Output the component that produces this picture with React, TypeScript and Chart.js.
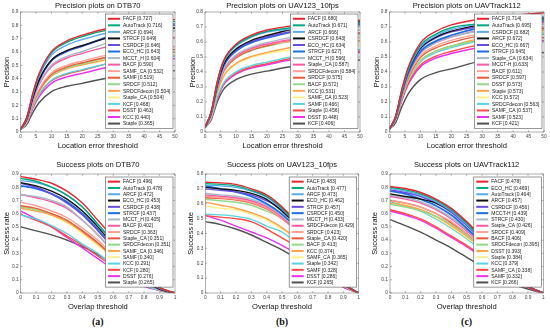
import React, { useEffect, useRef } from 'react';
import { Chart, registerables } from 'chart.js';

Chart.register(...registerables);
Chart.defaults.font.family = '"Liberation Sans", Arial, sans-serif';

// ---------- data ----------
const precisionX = [0, 2, 4, 6, 10, 15, 20, 30, 50];
const successX = [0, 0.1, 0.2, 0.3, 0.4, 0.5, 0.6, 0.7, 0.8, 0.9, 1];

const rankColors = [
  '#e8252d', '#00a97c', '#5aaaf2', '#111111', '#6b4be2', '#1c6fe2', '#a8b8c8', '#ff58a2', '#ffa096',
  '#f0583a', '#92da8a', '#ffa24a', '#fff08c', '#58d4de', '#ff4848', '#ef2ef2', '#505050',
];

// DTB70 precision
const dtbPrecNames = ['FACF', 'AutoTrack', 'ARCF', 'STRCF', 'CSRDCF', 'ECO_HC', 'MCCT_H', 'BACF', 'SAMF_CA', 'SAMF', 'SRDCF', 'SRDCFdecon', 'Staple_CA', 'KCF', 'DSST', 'KCC', 'Staple'];
const dtbPrecScores = [0.727, 0.716, 0.694, 0.649, 0.646, 0.643, 0.604, 0.590, 0.532, 0.519, 0.512, 0.504, 0.504, 0.468, 0.463, 0.440, 0.365];
const dtbPrecCurves = [
  [0.02, 0.109, 0.291, 0.436, 0.603, 0.683, 0.727, 0.786, 0.845],
  [0.02, 0.107, 0.286, 0.430, 0.594, 0.673, 0.716, 0.773, 0.83],
  [0.02, 0.104, 0.278, 0.416, 0.576, 0.652, 0.694, 0.752, 0.81],
  [0.02, 0.097, 0.260, 0.389, 0.539, 0.610, 0.649, 0.715, 0.78],
  [0.02, 0.097, 0.258, 0.388, 0.536, 0.607, 0.646, 0.723, 0.80],
  [0.02, 0.096, 0.257, 0.386, 0.534, 0.604, 0.643, 0.727, 0.81],
  [0.02, 0.091, 0.242, 0.362, 0.501, 0.568, 0.604, 0.682, 0.76],
  [0.02, 0.089, 0.236, 0.354, 0.490, 0.555, 0.590, 0.650, 0.71],
  [0.02, 0.080, 0.213, 0.319, 0.442, 0.500, 0.532, 0.586, 0.64],
  [0.02, 0.078, 0.208, 0.311, 0.431, 0.488, 0.519, 0.570, 0.62],
  [0.02, 0.077, 0.205, 0.307, 0.425, 0.481, 0.512, 0.566, 0.62],
  [0.02, 0.076, 0.202, 0.302, 0.418, 0.474, 0.504, 0.552, 0.60],
  [0.02, 0.076, 0.202, 0.302, 0.418, 0.474, 0.504, 0.542, 0.58],
  [0.02, 0.070, 0.187, 0.281, 0.388, 0.440, 0.468, 0.519, 0.57],
  [0.02, 0.069, 0.185, 0.278, 0.384, 0.435, 0.463, 0.522, 0.58],
  [0.02, 0.066, 0.176, 0.264, 0.365, 0.414, 0.440, 0.495, 0.55],
  [0.02, 0.055, 0.146, 0.219, 0.303, 0.343, 0.365, 0.413, 0.46],
];

// UAV123_10fps precision
const uavPrecNames = ['FACF', 'AutoTrack', 'ARCF', 'CSRDCF', 'ECO_HC', 'STRCF', 'MCCT_H', 'Staple_CA', 'SRDCFdecon', 'SRDCF', 'BACF', 'KCC', 'SAMF_CA', 'SAMF', 'Staple', 'DSST', 'KCF'];
const uavPrecScores = [0.680, 0.671, 0.666, 0.643, 0.634, 0.627, 0.596, 0.587, 0.584, 0.575, 0.572, 0.531, 0.523, 0.466, 0.456, 0.448, 0.406];
const uavPrecCurves = [
  [0.03, 0.136, 0.340, 0.476, 0.585, 0.646, 0.680, 0.713, 0.745],
  [0.03, 0.134, 0.336, 0.470, 0.577, 0.637, 0.671, 0.700, 0.73],
  [0.03, 0.133, 0.333, 0.466, 0.573, 0.633, 0.666, 0.688, 0.71],
  [0.03, 0.129, 0.322, 0.450, 0.553, 0.611, 0.643, 0.692, 0.74],
  [0.03, 0.127, 0.317, 0.444, 0.545, 0.602, 0.634, 0.677, 0.72],
  [0.03, 0.125, 0.314, 0.439, 0.539, 0.596, 0.627, 0.674, 0.72],
  [0.03, 0.119, 0.298, 0.417, 0.513, 0.566, 0.596, 0.638, 0.68],
  [0.03, 0.117, 0.294, 0.411, 0.505, 0.558, 0.587, 0.624, 0.66],
  [0.03, 0.117, 0.292, 0.409, 0.502, 0.555, 0.584, 0.607, 0.63],
  [0.03, 0.115, 0.288, 0.403, 0.495, 0.546, 0.575, 0.618, 0.66],
  [0.03, 0.114, 0.286, 0.400, 0.492, 0.543, 0.572, 0.611, 0.65],
  [0.03, 0.106, 0.266, 0.372, 0.457, 0.504, 0.531, 0.570, 0.61],
  [0.03, 0.105, 0.262, 0.366, 0.450, 0.497, 0.523, 0.552, 0.58],
  [0.03, 0.093, 0.233, 0.326, 0.401, 0.443, 0.466, 0.508, 0.55],
  [0.03, 0.091, 0.228, 0.319, 0.392, 0.433, 0.456, 0.498, 0.54],
  [0.03, 0.090, 0.224, 0.314, 0.385, 0.426, 0.448, 0.489, 0.53],
  [0.03, 0.081, 0.203, 0.284, 0.349, 0.386, 0.406, 0.443, 0.48],
];

// UAVTrack112 precision
const trkPrecNames = ['FACF', 'AutoTrack', 'CSRDCF', 'ARCF', 'ECO_HC', 'STRCF', 'Staple_CA', 'MCCT-H', 'BACF', 'SRDCF', 'DSST', 'Staple', 'KCC', 'SRDCFdecon', 'SAMF_CA', 'SAMF', 'KCF'];
const trkPrecScores = [0.714, 0.695, 0.682, 0.672, 0.667, 0.645, 0.634, 0.633, 0.611, 0.597, 0.573, 0.573, 0.572, 0.563, 0.537, 0.523, 0.421];
const trkPrecCurves = [
  [0.02, 0.107, 0.286, 0.428, 0.593, 0.671, 0.714, 0.755, 0.795],
  [0.02, 0.104, 0.278, 0.417, 0.577, 0.653, 0.695, 0.723, 0.75],
  [0.02, 0.102, 0.273, 0.409, 0.566, 0.641, 0.682, 0.726, 0.77],
  [0.02, 0.101, 0.269, 0.403, 0.558, 0.632, 0.672, 0.716, 0.76],
  [0.02, 0.100, 0.267, 0.400, 0.554, 0.627, 0.667, 0.704, 0.74],
  [0.02, 0.097, 0.258, 0.387, 0.535, 0.606, 0.645, 0.698, 0.75],
  [0.02, 0.095, 0.254, 0.380, 0.526, 0.596, 0.634, 0.677, 0.72],
  [0.02, 0.095, 0.253, 0.380, 0.525, 0.595, 0.633, 0.682, 0.73],
  [0.02, 0.092, 0.244, 0.367, 0.507, 0.574, 0.611, 0.656, 0.70],
  [0.02, 0.090, 0.239, 0.358, 0.496, 0.561, 0.597, 0.644, 0.69],
  [0.02, 0.086, 0.229, 0.344, 0.476, 0.539, 0.573, 0.612, 0.65],
  [0.02, 0.086, 0.229, 0.344, 0.476, 0.539, 0.573, 0.627, 0.68],
  [0.02, 0.086, 0.229, 0.343, 0.475, 0.538, 0.572, 0.621, 0.67],
  [0.02, 0.084, 0.225, 0.338, 0.467, 0.529, 0.563, 0.612, 0.66],
  [0.02, 0.081, 0.215, 0.322, 0.446, 0.505, 0.537, 0.584, 0.63],
  [0.02, 0.078, 0.209, 0.314, 0.434, 0.492, 0.523, 0.567, 0.61],
  [0.02, 0.063, 0.168, 0.253, 0.349, 0.396, 0.421, 0.476, 0.53],
];

// DTB70 success
const dtbSuccNames = ['FACF', 'AutoTrack', 'ARCF', 'ECO_HC', 'CSRDCF', 'STRCF', 'MCCT_H', 'BACF', 'SRDCF', 'Staple_CA', 'SRDCFdecon', 'SAMF_CA', 'SAMF', 'KCC', 'KCF', 'DSST', 'Staple'];
const dtbSuccScores = [0.496, 0.478, 0.472, 0.453, 0.438, 0.437, 0.405, 0.402, 0.363, 0.351, 0.351, 0.346, 0.340, 0.291, 0.280, 0.276, 0.265];
const dtbSuccCurves = [
  [0.88, 0.86, 0.83, 0.77, 0.68, 0.55, 0.42, 0.27, 0.13, 0.04, 0],
  [0.867, 0.845, 0.80, 0.74, 0.65, 0.52, 0.39, 0.25, 0.12, 0.04, 0],
  [0.85, 0.835, 0.80, 0.74, 0.65, 0.52, 0.38, 0.24, 0.11, 0.035, 0],
  [0.835, 0.81, 0.77, 0.71, 0.62, 0.50, 0.36, 0.22, 0.10, 0.03, 0],
  [0.83, 0.80, 0.75, 0.68, 0.59, 0.47, 0.34, 0.21, 0.10, 0.03, 0],
  [0.81, 0.79, 0.75, 0.69, 0.60, 0.48, 0.34, 0.20, 0.09, 0.03, 0],
  [0.745, 0.73, 0.70, 0.65, 0.55, 0.44, 0.31, 0.19, 0.09, 0.03, 0],
  [0.745, 0.72, 0.69, 0.64, 0.55, 0.44, 0.31, 0.19, 0.09, 0.03, 0],
  [0.686, 0.66, 0.62, 0.57, 0.49, 0.40, 0.28, 0.17, 0.08, 0.025, 0],
  [0.66, 0.64, 0.60, 0.55, 0.47, 0.38, 0.27, 0.17, 0.08, 0.025, 0],
  [0.65, 0.63, 0.60, 0.55, 0.47, 0.38, 0.27, 0.17, 0.08, 0.025, 0],
  [0.64, 0.62, 0.59, 0.54, 0.46, 0.37, 0.27, 0.17, 0.08, 0.025, 0],
  [0.655, 0.63, 0.59, 0.53, 0.45, 0.36, 0.26, 0.16, 0.08, 0.025, 0],
  [0.59, 0.56, 0.51, 0.45, 0.37, 0.30, 0.21, 0.13, 0.06, 0.02, 0],
  [0.595, 0.55, 0.50, 0.43, 0.36, 0.28, 0.20, 0.12, 0.06, 0.02, 0],
  [0.62, 0.56, 0.50, 0.42, 0.34, 0.26, 0.18, 0.12, 0.05, 0.02, 0],
  [0.50, 0.47, 0.44, 0.40, 0.35, 0.29, 0.22, 0.14, 0.07, 0.02, 0],
];

// UAV123_10fps success
const uavSuccNames = ['FACF', 'AutoTrack', 'ARCF', 'ECO_HC', 'STRCF', 'CSRDCF', 'MCCT_H', 'SRDCFdecon', 'SRDCF', 'Staple_CA', 'BACF', 'KCC', 'SAMF_CA', 'Staple', 'SAMF', 'DSST', 'KCF'];
const uavSuccScores = [0.483, 0.477, 0.473, 0.462, 0.457, 0.450, 0.433, 0.429, 0.423, 0.420, 0.413, 0.374, 0.365, 0.342, 0.328, 0.286, 0.265];
const uavSuccCurves = [
  [0.745, 0.74, 0.73, 0.70, 0.66, 0.58, 0.47, 0.33, 0.18, 0.06, 0],
  [0.735, 0.73, 0.72, 0.69, 0.65, 0.57, 0.46, 0.33, 0.18, 0.06, 0],
  [0.725, 0.72, 0.71, 0.685, 0.645, 0.565, 0.46, 0.33, 0.18, 0.06, 0],
  [0.71, 0.70, 0.69, 0.67, 0.63, 0.55, 0.45, 0.32, 0.17, 0.06, 0],
  [0.70, 0.69, 0.68, 0.66, 0.62, 0.56, 0.45, 0.32, 0.18, 0.06, 0],
  [0.72, 0.70, 0.68, 0.65, 0.60, 0.53, 0.43, 0.31, 0.17, 0.06, 0],
  [0.67, 0.66, 0.65, 0.63, 0.59, 0.52, 0.42, 0.30, 0.17, 0.05, 0],
  [0.66, 0.65, 0.64, 0.62, 0.58, 0.51, 0.41, 0.31, 0.18, 0.06, 0],
  [0.65, 0.64, 0.63, 0.61, 0.57, 0.50, 0.41, 0.30, 0.17, 0.06, 0],
  [0.64, 0.635, 0.625, 0.605, 0.565, 0.50, 0.41, 0.30, 0.17, 0.06, 0],
  [0.63, 0.62, 0.61, 0.59, 0.55, 0.50, 0.41, 0.30, 0.17, 0.06, 0],
  [0.61, 0.59, 0.57, 0.54, 0.50, 0.44, 0.36, 0.26, 0.15, 0.05, 0],
  [0.585, 0.57, 0.56, 0.53, 0.49, 0.43, 0.35, 0.25, 0.14, 0.05, 0],
  [0.53, 0.525, 0.515, 0.495, 0.45, 0.41, 0.33, 0.24, 0.14, 0.06, 0],
  [0.52, 0.51, 0.50, 0.48, 0.43, 0.37, 0.31, 0.23, 0.14, 0.05, 0],
  [0.52, 0.49, 0.45, 0.41, 0.37, 0.32, 0.26, 0.19, 0.11, 0.04, 0],
  [0.48, 0.46, 0.43, 0.39, 0.34, 0.29, 0.23, 0.17, 0.10, 0.04, 0],
];

// UAVTrack112 success
const trkSuccNames = ['FACF', 'ECO_HC', 'AutoTrack', 'ARCF', 'CSRDCF', 'MCCT-H', 'STRCF', 'Staple_CA', 'SRDCF', 'BACF', 'SRDCFdecon', 'DSST', 'Staple', 'KCC', 'SAMF_CA', 'SAMF', 'KCF'];
const trkSuccScores = [0.478, 0.469, 0.464, 0.457, 0.456, 0.439, 0.430, 0.426, 0.409, 0.406, 0.395, 0.393, 0.384, 0.379, 0.338, 0.332, 0.266];
const trkSuccCurves = [
  [0.805, 0.79, 0.76, 0.71, 0.64, 0.54, 0.42, 0.29, 0.15, 0.05, 0],
  [0.80, 0.78, 0.75, 0.70, 0.63, 0.53, 0.41, 0.28, 0.15, 0.05, 0],
  [0.79, 0.77, 0.74, 0.69, 0.62, 0.52, 0.41, 0.28, 0.15, 0.05, 0],
  [0.75, 0.73, 0.71, 0.68, 0.62, 0.53, 0.42, 0.29, 0.16, 0.05, 0],
  [0.78, 0.76, 0.73, 0.68, 0.61, 0.51, 0.40, 0.28, 0.15, 0.05, 0],
  [0.77, 0.75, 0.71, 0.66, 0.59, 0.49, 0.38, 0.26, 0.14, 0.05, 0],
  [0.74, 0.72, 0.69, 0.64, 0.57, 0.48, 0.37, 0.26, 0.14, 0.05, 0],
  [0.73, 0.71, 0.68, 0.63, 0.56, 0.47, 0.37, 0.26, 0.14, 0.05, 0],
  [0.70, 0.68, 0.65, 0.60, 0.54, 0.45, 0.35, 0.25, 0.14, 0.05, 0],
  [0.70, 0.68, 0.65, 0.60, 0.53, 0.45, 0.35, 0.24, 0.13, 0.05, 0],
  [0.67, 0.65, 0.62, 0.58, 0.52, 0.44, 0.34, 0.24, 0.13, 0.05, 0],
  [0.68, 0.66, 0.63, 0.58, 0.51, 0.43, 0.34, 0.24, 0.14, 0.05, 0],
  [0.70, 0.67, 0.63, 0.57, 0.50, 0.42, 0.33, 0.23, 0.13, 0.05, 0],
  [0.69, 0.66, 0.62, 0.56, 0.49, 0.41, 0.32, 0.23, 0.13, 0.05, 0],
  [0.63, 0.60, 0.56, 0.50, 0.43, 0.36, 0.28, 0.19, 0.11, 0.04, 0],
  [0.62, 0.59, 0.55, 0.49, 0.42, 0.35, 0.27, 0.19, 0.11, 0.04, 0],
  [0.555, 0.51, 0.46, 0.40, 0.34, 0.27, 0.20, 0.14, 0.07, 0.03, 0],
];

const subLabels = ['(a)', '(b)', '(c)'];

// ---------- layout ----------
type PanelCfg = {
  title: string; names: string[]; scores: number[]; curves: number[][]; xs: number[];
  xMax: number; xStep: number; yMax: number; yLabel: string; xLabel: string;
  left: number; top: number; w: number; h: number; L: number; R: number; T: number; B: number;
  titleY: number; yTitleX: number; rowH: number; legTop: number;
};

const top = { xs: precisionX, xMax: 50, xStep: 5, yLabel: 'Precision', xLabel: 'Location error threshold', top: 0, h: 150, T: 12, B: 132, titleY: 5.5, rowH: 6.55, legTop: 2 };
const bot = { xs: successX, xMax: 1, xStep: 0.1, yLabel: 'Success rate', xLabel: 'Overlap threshold', top: 150, h: 161, T: 24, B: 143, titleY: 15, rowH: 6.3, legTop: 3 };

const panels: PanelCfg[] = [
  { ...top, title: 'Precision plots on DTB70', names: dtbPrecNames, scores: dtbPrecScores, curves: dtbPrecCurves, yMax: 0.9, left: 0, w: 183, L: 20.5, R: 175, yTitleX: 7 },
  { ...top, title: 'Precision plots on UAV123_10fps', names: uavPrecNames, scores: uavPrecScores, curves: uavPrecCurves, yMax: 0.8, left: 183, w: 183, L: 22, R: 177, yTitleX: 9.5 },
  { ...top, title: 'Precision plots on UAVTrack112', names: trkPrecNames, scores: trkPrecScores, curves: trkPrecCurves, yMax: 0.8, left: 366, w: 184, L: 23.5, R: 178, yTitleX: 10.5 },
  { ...bot, title: 'Success plots on DTB70', names: dtbSuccNames, scores: dtbSuccScores, curves: dtbSuccCurves, yMax: 0.9, left: 0, w: 183, L: 20.7, R: 175, yTitleX: 6.5 },
  { ...bot, title: 'Success plots on UAV123_10fps', names: uavSuccNames, scores: uavSuccScores, curves: uavSuccCurves, yMax: 0.8, left: 183, w: 183, L: 22.3, R: 175.7, yTitleX: 7.5 },
  { ...bot, title: 'Success plots on UAVTrack112', names: trkSuccNames, scores: trkSuccScores, curves: trkSuccCurves, yMax: 0.9, left: 366, w: 184, L: 24, R: 177.3, yTitleX: 9 },
];

const FONT = '"Liberation Sans", Arial, sans-serif';

const fmt = (v: any) => {
  const n = Math.round(Number(v) * 10) / 10;
  return n === 0 ? '0' : String(n);
};

const framePlugin = {
  id: 'frameAndTitle',
  afterDatasetsDraw(chart: any, _a: any, opts: any) {
    const { ctx, chartArea: a, scales } = chart;
    ctx.save();
    ctx.strokeStyle = '#7a7a7a';
    ctx.lineWidth = 0.6;
    ctx.strokeRect(a.left, a.top, a.right - a.left, a.bottom - a.top);
    const tl = 1.8;
    ctx.beginPath();
    scales.x.ticks.forEach((t: any) => {
      const px = scales.x.getPixelForValue(t.value);
      ctx.moveTo(px, a.bottom); ctx.lineTo(px, a.bottom - tl);
      ctx.moveTo(px, a.top); ctx.lineTo(px, a.top + tl);
    });
    scales.y.ticks.forEach((t: any) => {
      const py = scales.y.getPixelForValue(t.value);
      ctx.moveTo(a.left, py); ctx.lineTo(a.left + tl, py);
      ctx.moveTo(a.right, py); ctx.lineTo(a.right - tl, py);
    });
    ctx.stroke();
    ctx.fillStyle = '#111';
    ctx.font = `7.6px ${FONT}`;
    ctx.textAlign = 'center';
    ctx.textBaseline = 'middle';
    ctx.fillText(opts.title, (a.left + a.right) / 2, opts.titleY);
    ctx.restore();
  },
};

const boxLegendPlugin = {
  id: 'boxLegend',
  afterDraw(chart: any, _a: any, opts: any) {
    const { ctx, chartArea: a } = chart;
    const items = chart.data.datasets.map((d: any) => ({ label: d.label, color: d.borderColor }));
    ctx.save();
    ctx.font = `5px ${FONT}`;
    const textW = Math.max(...items.map((i: any) => ctx.measureText(i.label).width));
    const padX = 2.5, sample = 12, gap = 3, padY = 1.5, rowH = opts.rowH;
    const w = padX + sample + gap + textW + padX;
    const h = padY * 2 + rowH * items.length;
    const x0 = a.right - 2 - w;
    const y0 = a.top + opts.legTop;
    ctx.fillStyle = '#fff';
    ctx.fillRect(x0, y0, w, h);
    ctx.strokeStyle = '#555';
    ctx.lineWidth = 0.6;
    ctx.strokeRect(x0, y0, w, h);
    items.forEach((it: any, i: number) => {
      const cy = y0 + padY + rowH * (i + 0.5);
      ctx.strokeStyle = it.color;
      ctx.lineWidth = 2;
      ctx.beginPath();
      ctx.moveTo(x0 + padX, cy);
      ctx.lineTo(x0 + padX + sample, cy);
      ctx.stroke();
      ctx.fillStyle = '#222';
      ctx.textBaseline = 'middle';
      ctx.textAlign = 'left';
      ctx.fillText(it.label, x0 + padX + sample + gap, cy + 0.3);
    });
    ctx.restore();
  },
};

function Panel({ p }: { p: PanelCfg }) {
  const ref = useRef<HTMLCanvasElement>(null);
  useEffect(() => {
    if (!ref.current) return;
    const datasets = p.names.map((name, i) => ({
      label: `${name} [${p.scores[i].toFixed(3)}]`,
      data: p.xs.map((x, j) => ({ x, y: p.curves[i][j] })),
      borderColor: rankColors[i],
      backgroundColor: rankColors[i],
      borderWidth: i === 5 ? 1.8 : 1.4,
      pointRadius: 0,
      cubicInterpolationMode: 'monotone' as const,
      fill: false,
    }));
    const chart = new Chart(ref.current, {
      type: 'line',
      data: { datasets },
      options: {
        animation: false,
        responsive: false,
        maintainAspectRatio: false,
        layout: { padding: { left: 0, right: p.w - p.R, top: p.T, bottom: 0 } },
        plugins: {
          legend: { display: false },
          tooltip: { enabled: false },
          title: { display: false },
          frameAndTitle: { title: p.title, titleY: p.titleY },
          boxLegend: { rowH: p.rowH, legTop: p.legTop },
        } as any,
        scales: {
          x: {
            type: 'linear',
            min: 0,
            max: p.xMax,
            grid: { display: false, drawTicks: false },
            border: { display: false },
            ticks: { stepSize: p.xStep, autoSkip: false, maxRotation: 0, font: { size: 4.8 }, color: '#444', padding: 1.5, callback: fmt },
            title: { display: true, text: p.xLabel, font: { size: 7.6 }, color: '#111', padding: { top: 0, bottom: 0 } },
            afterFit: (s: any) => { s.height = p.h - p.B; s.paddingLeft = 0; s.paddingRight = 0; },
          },
          y: {
            type: 'linear',
            min: 0,
            max: p.yMax,
            grid: { display: false, drawTicks: false },
            border: { display: false },
            ticks: { stepSize: 0.1, font: { size: 4.8 }, color: '#444', padding: 2, callback: fmt },
            title: { display: true, text: p.yLabel, font: { size: 7.4 }, color: '#111', padding: { top: p.yTitleX - 4.4, bottom: 0 } },
            afterFit: (s: any) => { s.width = p.L; s.paddingTop = 0; s.paddingBottom = 0; },
          },
        },
      },
      plugins: [framePlugin, boxLegendPlugin],
    });
    return () => chart.destroy();
  }, [p]);
  return (
    <canvas
      ref={ref}
      width={p.w}
      height={p.h}
      style={{ position: 'absolute', left: p.left, top: p.top, width: p.w, height: p.h }}
    />
  );
}

export default function App() {
  return (
    <div style={{ position: 'fixed', left: 0, top: 0, width: 550, height: 329, background: '#fff', overflow: 'hidden' }}>
      {panels.map((p, i) => <Panel key={i} p={p} />)}
      {subLabels.map((s, i) => {
        const p = panels[3 + i];
        const cx = p.left + (p.L + p.R) / 2;
        return (
          <div
            key={s}
            style={{
              position: 'absolute', left: cx - 20, width: 40, top: 315, height: 14, lineHeight: '14px',
              textAlign: 'center', fontFamily: '"Liberation Serif", "DejaVu Serif", serif', fontWeight: 'bold', fontSize: 10, color: '#111',
            }}
          >
            {s}
          </div>
        );
      })}
    </div>
  );
}
